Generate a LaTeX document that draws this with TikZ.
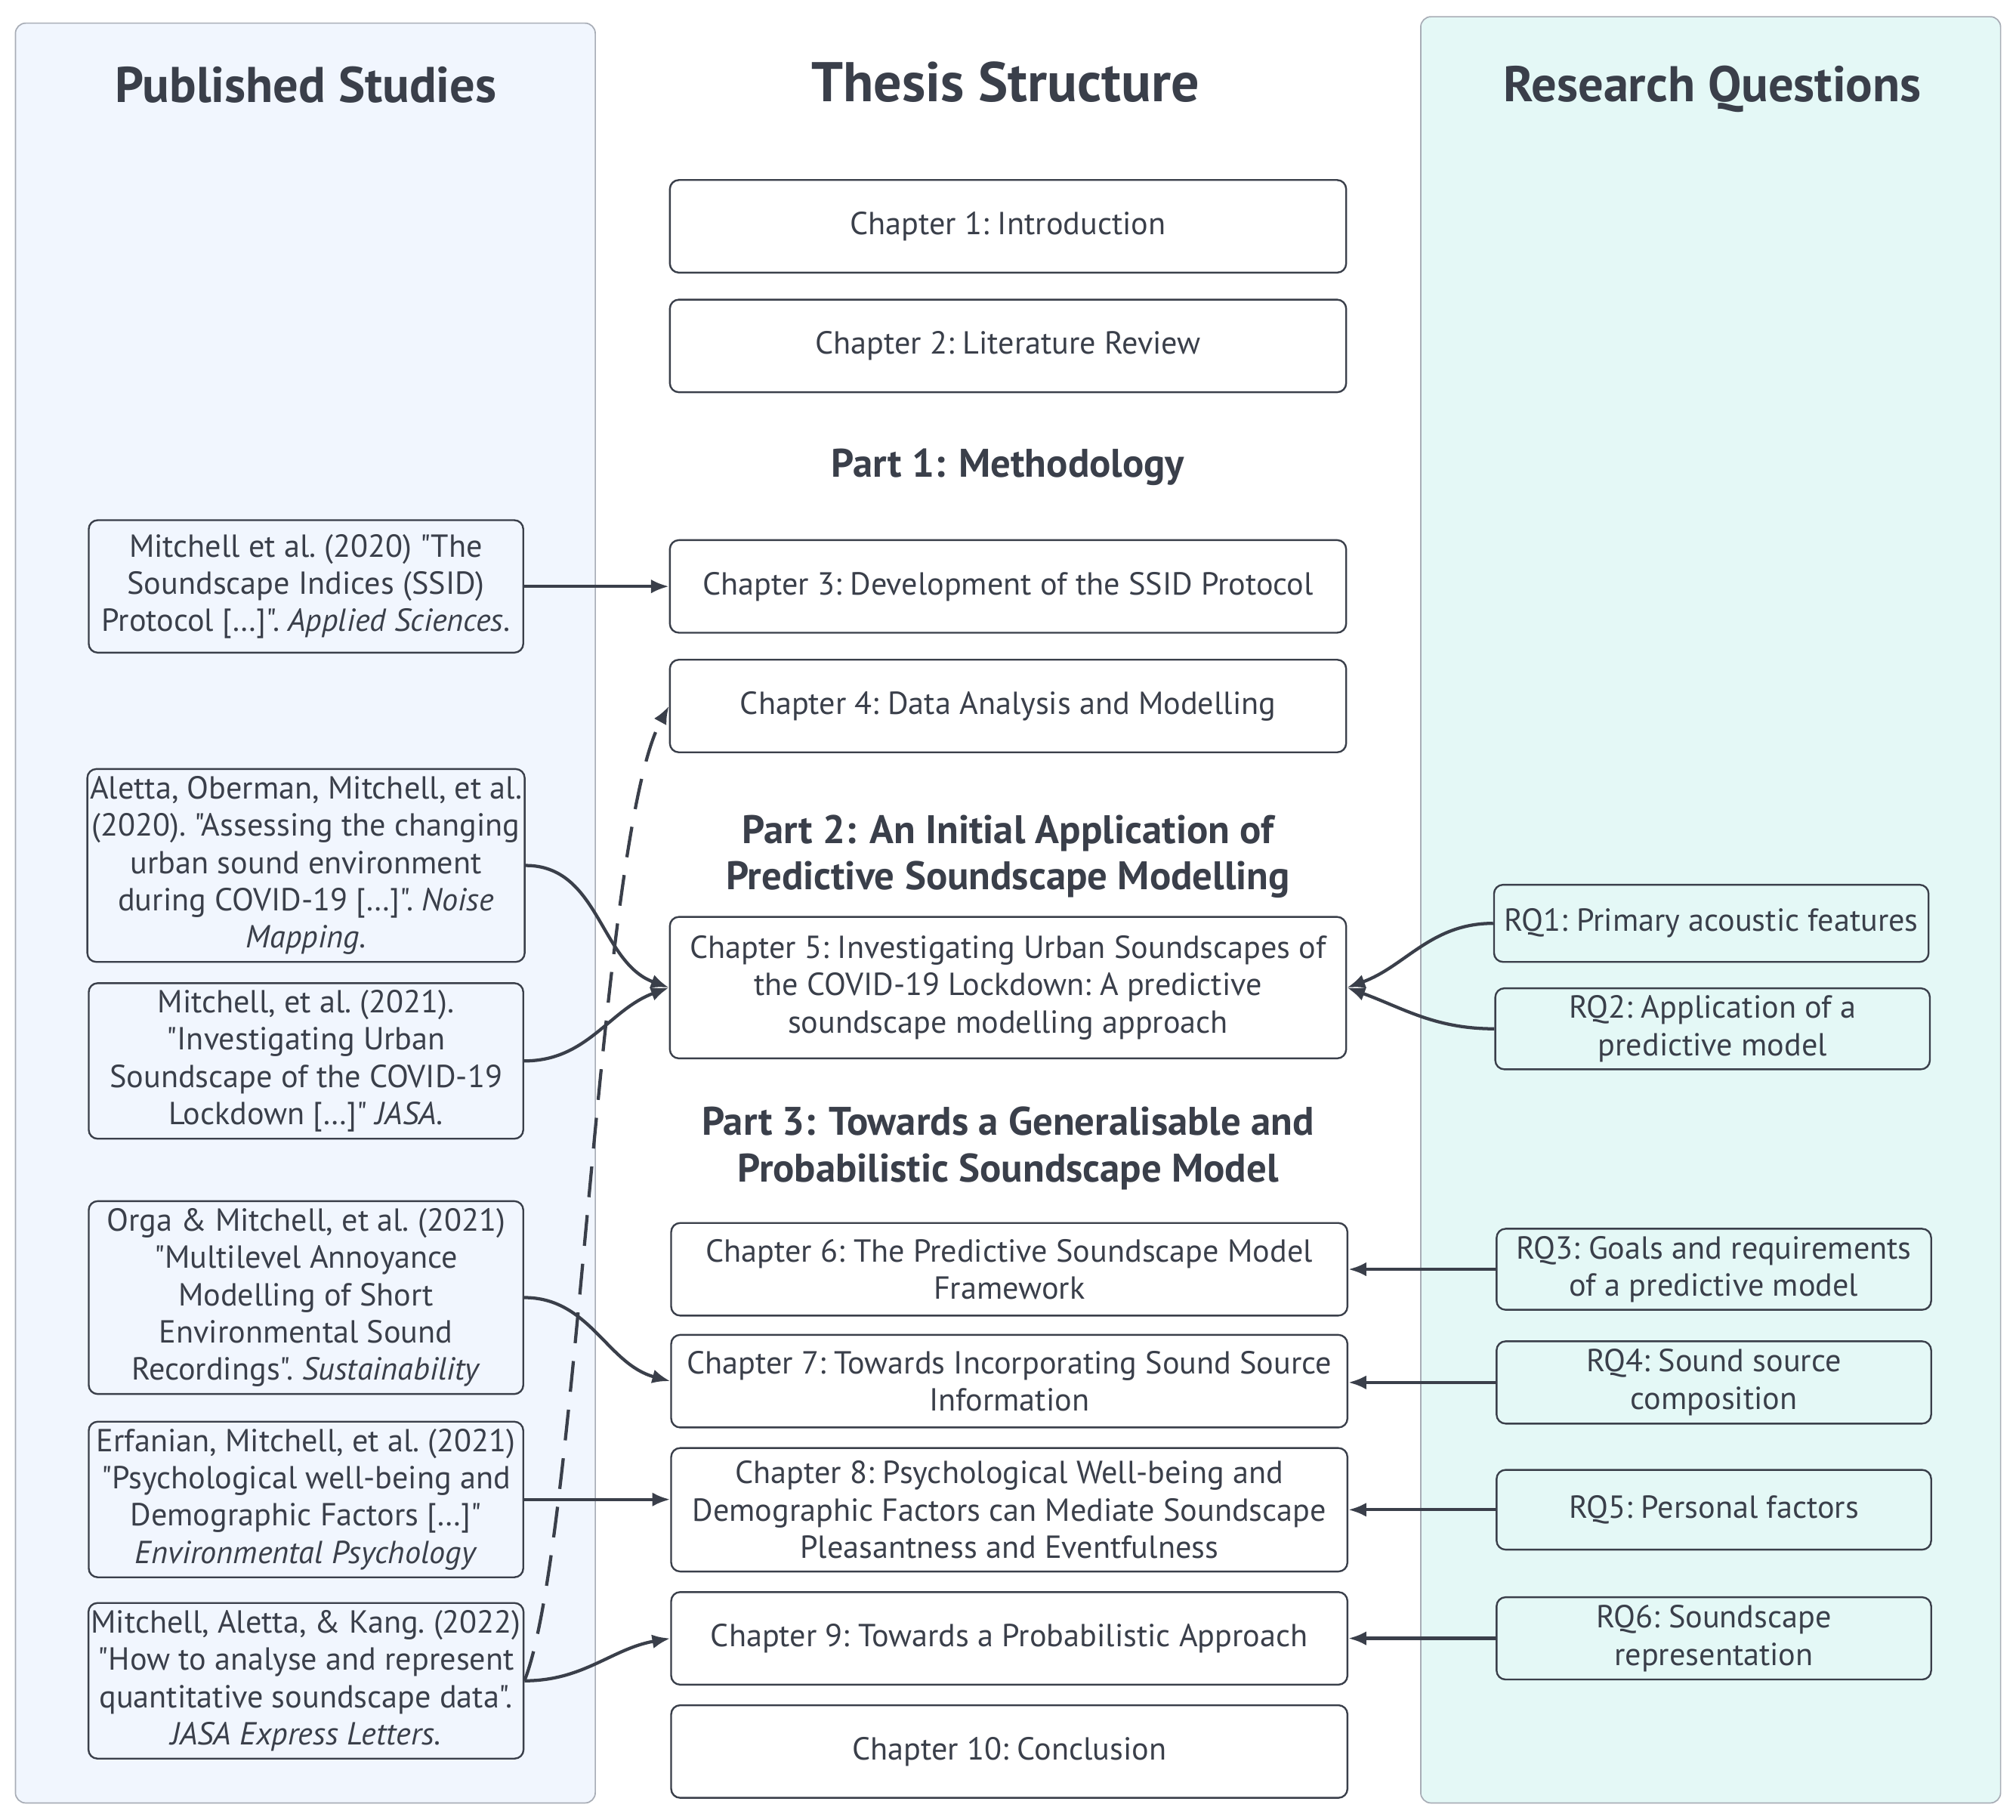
\documentclass[tikz,border=0pt]{standalone}
\usepackage{fontspec}
\setmainfont{PT Sans}[Ligatures=TeXOff]
\usepackage{xcolor}
\usepackage{tikz}
\usetikzlibrary{arrows.meta,positioning}

\definecolor{ink}{HTML}{3A3F4A}
\definecolor{pubfill}{HTML}{F1F6FE}
\definecolor{rqfill}{HTML}{E4F8F6}
\definecolor{frame}{HTML}{A8ADB6}

\tikzset{
  box/.style={draw=ink, line width=1.4pt, rounded corners=7pt, inner sep=2pt},
  chap/.style={box, fill=white, minimum width=526pt, minimum height=72pt},
  pub/.style={box, fill=pubfill, minimum width=338pt},
  rq/.style={box, fill=rqfill, minimum width=338pt},
  head/.style={font=\fontsize{39}{47}\selectfont\bfseries},
  part/.style={font=\fontsize{31}{36}\selectfont\bfseries},
  link/.style={draw=ink, line width=2.5pt, -{Latex[length=14pt,width=11pt]}}
}

\begin{document}
\begin{tikzpicture}[x=1pt, y=1pt, line join=round,
  every node/.style={text=ink, align=center, font=\fontsize{24.8}{29}\selectfont\frenchspacing}]
    \useasboundingbox (0,0) rectangle (1568,-1415.2);
    % columns
    \draw[frame, fill=pubfill, line width=1pt, rounded corners=8pt] (12,-18) rectangle (463,-1402);
    \draw[frame, fill=rqfill, line width=1pt, rounded corners=8pt] (1105,-13) rectangle (1556,-1402);
    \node[head] (TL) at (238,-66) {Published Studies};
    \node[head, font=\fontsize{43.5}{52}\selectfont\bfseries] (TM) at (782,-64) {Thesis Structure};
    \node[head] (TR) at (1332,-69) {Research Questions};

    % thesis structure
    \node[chap] (C1) at (784,-176) {Chapter 1: Introduction};
    \node[chap] (C2) at (784,-269) {Chapter 2: Literature Review};
    \node[part] (L1) at (784,-363) {Part 1: Methodology};
    \node[chap] (C3) at (784,-456) {Chapter 3: Development of the SSID Protocol};
    \node[chap] (C4) at (784,-549) {Chapter 4: Data Analysis and Modelling};
    \node[part] (L2) at (784,-666) {Part 2: An Initial Application of\\Predictive Soundscape Modelling};
    \node[chap, minimum height=110pt] (C5) at (784,-768) {Chapter 5: Investigating Urban Soundscapes of\\the COVID-19 Lockdown: A predictive\\soundscape modelling approach};
    \node[part] (L3) at (784,-893) {Part 3: Towards a Generalisable and\\Probabilistic Soundscape Model};
    \node[chap] (C6) at (785,-987) {Chapter 6: The Predictive Soundscape Model\\Framework};
    \node[chap] (C7) at (785,-1074) {Chapter 7: Towards Incorporating Sound Source\\Information};
    \node[chap, minimum height=96pt] (C8) at (785,-1174) {Chapter 8: Psychological Well-being and\\Demographic Factors can Mediate Soundscape\\Pleasantness and Eventfulness};
    \node[chap] (C9) at (785,-1274) {Chapter 9: Towards a Probabilistic Approach};
    \node[chap] (C10) at (785,-1362) {Chapter 10: Conclusion};

    % published studies
    \node[pub, minimum height=103pt] (P1) at (238,-456) {Mitchell et al. (2020) "The\\Soundscape Indices (SSID)\\Protocol […]". \textit{Applied Sciences}.};
    \node[pub, minimum height=150pt] (P2) at (238,-673) {Aletta, Oberman, Mitchell, et al.\\(2020). "Assessing the changing\\urban sound environment\\during COVID-19 […]". \textit{Noise}\\\textit{Mapping}.};
    \node[pub, minimum height=121pt] (P3) at (238,-825) {Mitchell, et al. (2021).\\"Investigating Urban\\Soundscape of the COVID-19\\Lockdown […]" \textit{JASA}.};
    \node[pub, minimum height=150pt] (P4) at (238,-1009) {Orga \& Mitchell, et al. (2021)\\"Multilevel Annoyance\\Modelling of Short\\Environmental Sound\\Recordings". \textit{Sustainability}};
    \node[pub, minimum height=121pt] (P5) at (238,-1166) {Erfanian, Mitchell, et al. (2021)\\"Psychological well-being and\\Demographic Factors […]"\\\textit{Environmental Psychology}};
    \node[pub, minimum height=121pt] (P6) at (238,-1307) {Mitchell, Aletta, \& Kang. (2022)\\"How to analyse and represent\\quantitative soundscape data".\\\textit{JASA Express Letters}.};

    % research questions
    \node[rq, minimum height=60pt] (Q1) at (1331,-718) {RQ1: Primary acoustic features};
    \node[rq, minimum height=63pt] (Q2) at (1332,-800) {RQ2: Application of a\\predictive model};
    \node[rq, minimum height=63pt] (Q3) at (1333,-987) {RQ3: Goals and requirements\\of a predictive model};
    \node[rq, minimum height=64pt] (Q4) at (1333,-1075) {RQ4: Sound source\\composition};
    \node[rq, minimum height=62pt] (Q5) at (1333,-1174) {RQ5: Personal factors};
    \node[rq, minimum height=64pt] (Q6) at (1333,-1274) {RQ6: Soundscape\\representation};

    % links
    \draw[link] (P1) -- (C3);
    \draw[link] (P2.east) to[out=0, in=160] (C5.west);
    \draw[link] (P3.east) to[out=0, in=200] (C5.west);
    \draw[link] (P4.east) to[out=0, in=165] (C7.west);
    \draw[link] (P5.east) -- (P5.east -| C8.west);
    \draw[link] (P6.east) to[out=0, in=190] (C9.west);
    \draw[link, dash pattern=on 24pt off 14pt] (P6.east) .. controls (450,-1200) and (465,-650) .. (C4.west);
    \draw[link] (Q1.west) to[out=180, in=20] (C5.east);
    \draw[link] (Q2.west) to[out=180, in=-20] (C5.east);
    \draw[link] (Q3) -- (C6);
    \draw[link] (Q4) -- (Q4 -| C7.east);
    \draw[link] (Q5) -- (C8);
    \draw[link] (Q6) -- (C9);
\end{tikzpicture}
\end{document}
